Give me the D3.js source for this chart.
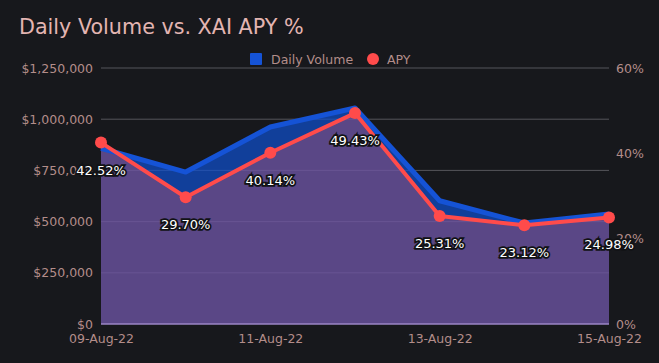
<!DOCTYPE html>
<html>
<head>
<meta charset="utf-8">
<script src="https://cdn.jsdelivr.net/npm/d3@7"></script>
<style>
  body { margin: 0; background: #17181c; }
  text { font-family: "DejaVu Sans", sans-serif; }
</style>
</head>
<body>
<script>
// chart data
var dates = ["09-Aug-22","10-Aug-22","11-Aug-22","12-Aug-22","13-Aug-22","14-Aug-22","15-Aug-22"];
var volume = [858000, 742000, 962000, 1055000, 602000, 493000, 537000];
var apy = [42.52, 29.70, 40.14, 49.43, 25.31, 23.12, 24.98];
var volumeTicks = [0, 250000, 500000, 750000, 1000000, 1250000];
var apyTicks = [0, 20, 40, 60];
var dateTicks = ["09-Aug-22","11-Aug-22","13-Aug-22","15-Aug-22"];

var w = 659, h = 363;
var plotLeft = 101, plotRight = 609, plotTop = 68, plotBottom = 324;

var svg = d3.select("body").append("svg")
  .attr("width", w)
  .attr("height", h);

svg.append("rect").attr("width", w).attr("height", h).attr("fill", "#17181c");

var x = d3.scalePoint().domain(dates).range([plotLeft, plotRight]);
var yVol = d3.scaleLinear().domain([0, 1250000]).range([plotBottom, plotTop]);
var yApy = d3.scaleLinear().domain([0, 60]).range([plotBottom, plotTop]);

// title
svg.append("text")
  .attr("x", 19).attr("y", 34)
  .attr("fill", "#e3b5b2")
  .style("font-size", "20.7px")
  .text("Daily Volume vs. XAI APY %");

// gridlines
svg.append("g").selectAll("line")
  .data(volumeTicks.slice(1))
  .enter().append("line")
  .attr("x1", plotLeft).attr("x2", plotRight)
  .attr("y1", function(d){ return yVol(d); })
  .attr("y2", function(d){ return yVol(d); })
  .attr("stroke", "#55555a")
  .attr("stroke-width", 1);

// volume area
var areaVol = d3.area()
  .x(function(d, i){ return x(dates[i]); })
  .y0(plotBottom)
  .y1(function(d){ return yVol(d); });
svg.append("path").datum(volume)
  .attr("d", areaVol)
  .attr("fill", "#1050d0")
  .attr("fill-opacity", 0.7);

// apy area
var areaApy = d3.area()
  .x(function(d, i){ return x(dates[i]); })
  .y0(plotBottom)
  .y1(function(d){ return yApy(d); });
svg.append("path").datum(apy)
  .attr("d", areaApy)
  .attr("fill", "#ff5a5a")
  .attr("fill-opacity", 0.31);

var lineVol = d3.line()
  .x(function(d, i){ return x(dates[i]); })
  .y(function(d){ return yVol(d); });
svg.append("path").datum(volume)
  .attr("d", lineVol)
  .attr("fill", "none")
  .attr("stroke", "#1553d6")
  .attr("stroke-width", 5)
  .attr("stroke-linejoin", "round");

var lineApy = d3.line()
  .x(function(d, i){ return x(dates[i]); })
  .y(function(d){ return yApy(d); });
svg.append("path").datum(apy)
  .attr("d", lineApy)
  .attr("fill", "none")
  .attr("stroke", "#ff4b4b")
  .attr("stroke-width", 4)
  .attr("stroke-linejoin", "round");

// bottom axis line
svg.append("line")
  .attr("x1", plotLeft).attr("x2", plotRight)
  .attr("y1", plotBottom).attr("y2", plotBottom)
  .attr("stroke", "#9b85c4")
  .attr("stroke-width", 1.5);

svg.append("g").selectAll("circle")
  .data(apy)
  .enter().append("circle")
  .attr("cx", function(d, i){ return x(dates[i]); })
  .attr("cy", function(d){ return yApy(d); })
  .attr("r", 6)
  .attr("fill", "#ff4b4b");

// axes
var axisStyle = function(g){
  g.select(".domain").remove();
  g.selectAll(".tick line").remove();
  g.selectAll(".tick text")
    .attr("fill", "#b38d8a")
    .style("font-size", "12.5px")
    .style("font-family", "DejaVu Sans, sans-serif");
};

svg.append("g")
  .attr("transform", "translate(" + (plotLeft - 8) + ",0)")
  .call(d3.axisLeft(yVol).tickValues(volumeTicks).tickSize(0).tickPadding(0)
    .tickFormat(function(d){ return "$" + d3.format(",")(d); }))
  .call(axisStyle);

svg.append("g")
  .attr("transform", "translate(" + (plotRight + 7) + ",0)")
  .call(d3.axisRight(yApy).tickValues(apyTicks).tickSize(0).tickPadding(0)
    .tickFormat(function(d){ return d + "%"; }))
  .call(axisStyle);

svg.append("g")
  .attr("transform", "translate(0," + (plotBottom + 10) + ")")
  .call(d3.axisBottom(x).tickValues(dateTicks).tickSize(0).tickPadding(0))
  .call(axisStyle);

// data labels
svg.append("g").selectAll("text")
  .data(apy)
  .enter().append("text")
  .attr("x", function(d, i){ return x(dates[i]); })
  .attr("y", function(d){ return yApy(d) + 32; })
  .attr("text-anchor", "middle")
  .attr("fill", "#ffffff")
  .attr("stroke", "#111215")
  .attr("stroke-width", 3.5)
  .attr("paint-order", "stroke")
  .style("font-size", "13px")
  .text(function(d){ return d.toFixed(2) + "%"; });

// legend
var legend = svg.append("g");
legend.append("rect")
  .attr("x", 250).attr("y", 53).attr("width", 12).attr("height", 12).attr("rx", 1)
  .attr("fill", "#1553d6");
legend.append("text")
  .attr("x", 271).attr("y", 64)
  .attr("fill", "#b38d8a").style("font-size", "12.5px")
  .text("Daily Volume");
legend.append("circle")
  .attr("cx", 373).attr("cy", 59).attr("r", 6)
  .attr("fill", "#ff4b4b");
legend.append("text")
  .attr("x", 387).attr("y", 64)
  .attr("fill", "#b38d8a").style("font-size", "12.5px")
  .text("APY");
</script>
</body>
</html>
